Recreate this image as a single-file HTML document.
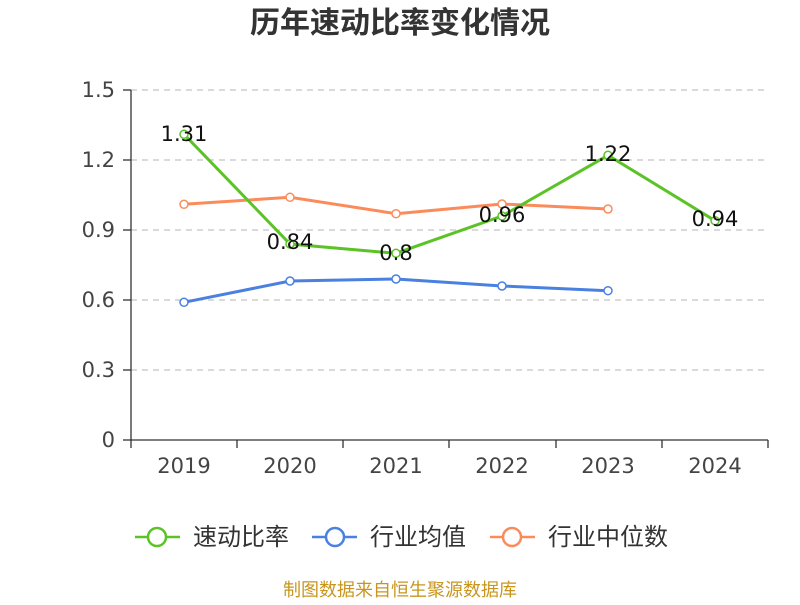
<!DOCTYPE html>
<html><head><meta charset="utf-8"><style>
body{margin:0;background:#fff;}
svg text{font-family:"DejaVu Sans","Noto Sans CJK SC",sans-serif;}
.cjk{font-family:"Liberation Sans","Noto Sans CJK SC",sans-serif;}
</style></head><body>
<svg width="800" height="600" xmlns="http://www.w3.org/2000/svg">
<text class="cjk" x="400" y="33" text-anchor="middle" font-size="30" font-weight="bold" fill="#333">历年速动比率变化情况</text>
<g stroke="#c4c4c4" stroke-dasharray="6,5" stroke-width="1.3">
<line x1="131" y1="90" x2="768" y2="90"/><line x1="131" y1="160" x2="768" y2="160"/>
<line x1="131" y1="230" x2="768" y2="230"/><line x1="131" y1="300" x2="768" y2="300"/>
<line x1="131" y1="370" x2="768" y2="370"/></g>
<g stroke="#333" stroke-width="1.3">
<line x1="131" y1="90" x2="131" y2="440"/><line x1="131" y1="440" x2="768" y2="440"/>
<line x1="123" y1="90" x2="131" y2="90"/><line x1="123" y1="160" x2="131" y2="160"/><line x1="123" y1="230" x2="131" y2="230"/><line x1="123" y1="300" x2="131" y2="300"/><line x1="123" y1="370" x2="131" y2="370"/><line x1="123" y1="440" x2="131" y2="440"/>
<line x1="131" y1="440" x2="131" y2="448"/><line x1="237" y1="440" x2="237" y2="448"/><line x1="343" y1="440" x2="343" y2="448"/><line x1="449" y1="440" x2="449" y2="448"/><line x1="556" y1="440" x2="556" y2="448"/><line x1="662" y1="440" x2="662" y2="448"/><line x1="768" y1="440" x2="768" y2="448"/>
</g>
<g font-size="21" fill="#444" text-anchor="end">
<text x="115" y="97">1.5</text><text x="115" y="167">1.2</text><text x="115" y="237">0.9</text><text x="115" y="307">0.6</text><text x="115" y="377">0.3</text><text x="115" y="447">0</text></g>
<g font-size="21" fill="#444" text-anchor="middle">
<text x="184" y="473">2019</text><text x="290" y="473">2020</text><text x="396" y="473">2021</text><text x="502" y="473">2022</text><text x="608" y="473">2023</text><text x="715" y="473">2024</text></g>
<polyline points="184,204.3 290,197.3 396,213.7 502,204 608,209" fill="none" stroke="#fb8b5a" stroke-width="3"/>
<g fill="#fff" stroke="#fb8b5a" stroke-width="1.5"><circle cx="184" cy="204.3" r="4"/><circle cx="290" cy="197.3" r="4"/><circle cx="396" cy="213.7" r="4"/><circle cx="502" cy="204" r="4"/><circle cx="608" cy="209" r="4"/></g>
<polyline points="184,302.3 290,281 396,279 502,286 608,290.7" fill="none" stroke="#4a80e0" stroke-width="3"/>
<g fill="#fff" stroke="#4a80e0" stroke-width="1.5"><circle cx="184" cy="302.3" r="4"/><circle cx="290" cy="281" r="4"/><circle cx="396" cy="279" r="4"/><circle cx="502" cy="286" r="4"/><circle cx="608" cy="290.7" r="4"/></g>
<polyline points="184,134.3 290,244 396,253.3 502,216 608,155.3 715,220.7" fill="none" stroke="#5bc326" stroke-width="3"/>
<g fill="#fff" stroke="#5bc326" stroke-width="1.5"><circle cx="184" cy="134.3" r="4"/><circle cx="290" cy="244" r="4"/><circle cx="396" cy="253.3" r="4"/><circle cx="502" cy="216" r="4"/><circle cx="608" cy="155.3" r="4"/><circle cx="715" cy="220.7" r="4"/></g>
<g font-size="21" fill="#111" text-anchor="middle">
<text x="184" y="141">1.31</text><text x="290" y="249">0.84</text><text x="396" y="260">0.8</text><text x="502" y="222">0.96</text><text x="608" y="161">1.22</text><text x="715" y="226">0.94</text></g>
<g stroke-width="2.5" fill="#fff">
<line x1="135" y1="537" x2="180" y2="537" stroke="#5bc326"/><circle cx="157" cy="537" r="9" stroke="#5bc326"/>
<line x1="312" y1="537" x2="357" y2="537" stroke="#4a80e0"/><circle cx="335" cy="537" r="9" stroke="#4a80e0"/>
<line x1="490" y1="537" x2="535" y2="537" stroke="#fb8b5a"/><circle cx="512" cy="537" r="9" stroke="#fb8b5a"/></g>
<g class="cjk" font-size="24" fill="#333">
<text class="cjk" x="193" y="545">速动比率</text><text class="cjk" x="370" y="545">行业均值</text><text class="cjk" x="548" y="545">行业中位数</text></g>
<text class="cjk" x="400" y="596" text-anchor="middle" font-size="18" fill="#c8961e">制图数据来自恒生聚源数据库</text>
</svg>
</body></html>
